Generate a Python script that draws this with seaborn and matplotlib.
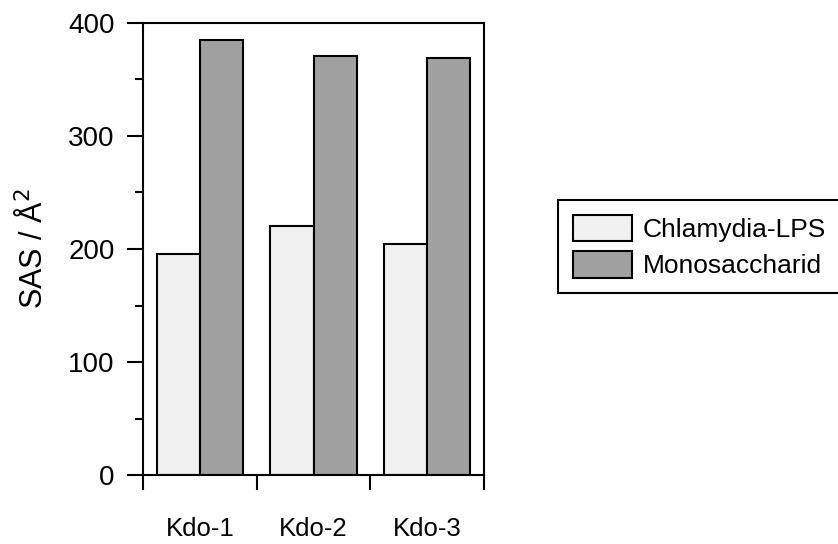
import matplotlib
matplotlib.use("Agg")
import matplotlib.pyplot as plt
import seaborn as sns
import pandas as pd
from matplotlib.ticker import MultipleLocator, FixedLocator, NullFormatter

categories = ["Kdo-1", "Kdo-2", "Kdo-3"]
series_names = ["Chlamydia-LPS", "Monosaccharid"]
chlamydia = [196, 220, 204]
mono = [385, 371, 369]

df = pd.DataFrame({
    "cat": categories * 2,
    "series": [series_names[0]] * 3 + [series_names[1]] * 3,
    "val": chlamydia + mono,
})

sns.set_style("white")
plt.rcParams["font.family"] = ["Liberation Sans", "DejaVu Sans"]
plt.rcParams["text.color"] = "black"
plt.rcParams["axes.labelcolor"] = "black"
plt.rcParams["xtick.color"] = "black"
plt.rcParams["ytick.color"] = "black"

fig = plt.figure(figsize=(8.38, 5.44), dpi=100)
ax = fig.add_axes([143/838, 1-475/544, (484-143)/838, (475-23)/544])

sns.barplot(data=df, x="cat", y="val", hue="series", order=categories,
            hue_order=series_names, palette=["#f0f0f0", "#a0a0a0"],
            width=0.76, edgecolor="black", linewidth=1.5, saturation=1,
            ax=ax, legend=True)

ax.set_xlim(-0.5, 2.5)
ax.set_ylim(0, 400)
for s in ax.spines.values():
    s.set_visible(True)
    s.set_color("black")
    s.set_linewidth(1.5)

ax.yaxis.set_major_locator(MultipleLocator(100))
ax.yaxis.set_minor_locator(MultipleLocator(50))
ax.tick_params(axis="y", which="major", direction="out", length=11.5, width=1.5,
               labelsize=20, pad=9, left=True, colors="black")
ax.tick_params(axis="y", which="minor", direction="out", length=5.8, width=1.5,
               left=True, colors="black")

ax.xaxis.set_major_locator(FixedLocator([-0.5, 0.5, 1.5, 2.5]))
ax.xaxis.set_major_formatter(NullFormatter())
ax.xaxis.set_minor_locator(FixedLocator([0, 1, 2]))
ax.set_xticklabels(categories, minor=True)
ax.tick_params(axis="x", which="major", direction="out", length=11, width=1.5,
               bottom=True, colors="black")
ax.tick_params(axis="x", which="minor", length=0, pad=30, labelsize=18.5,
               colors="black")

ax.set_xlabel("")
ax.set_ylabel("SAS / Å$^2$", fontsize=22, color="black")
ax.yaxis.set_label_coords(-0.275, 0.5)

handles, labels = ax.get_legend_handles_labels()
ax.legend_.remove()
leg = fig.legend(handles, labels, loc="upper left",
                 bbox_to_anchor=(558/838, 1-200/544), borderaxespad=0,
                 frameon=True, fontsize=19, handlelength=2.27, handleheight=1.17,
                 borderpad=0.55, labelspacing=0.36, handletextpad=0.38,
                 fancybox=False, edgecolor="black", framealpha=1)
leg.get_frame().set_linewidth(1.5)
for t in leg.get_texts():
    t.set_color("black")

fig.savefig("out.png", dpi=100)
